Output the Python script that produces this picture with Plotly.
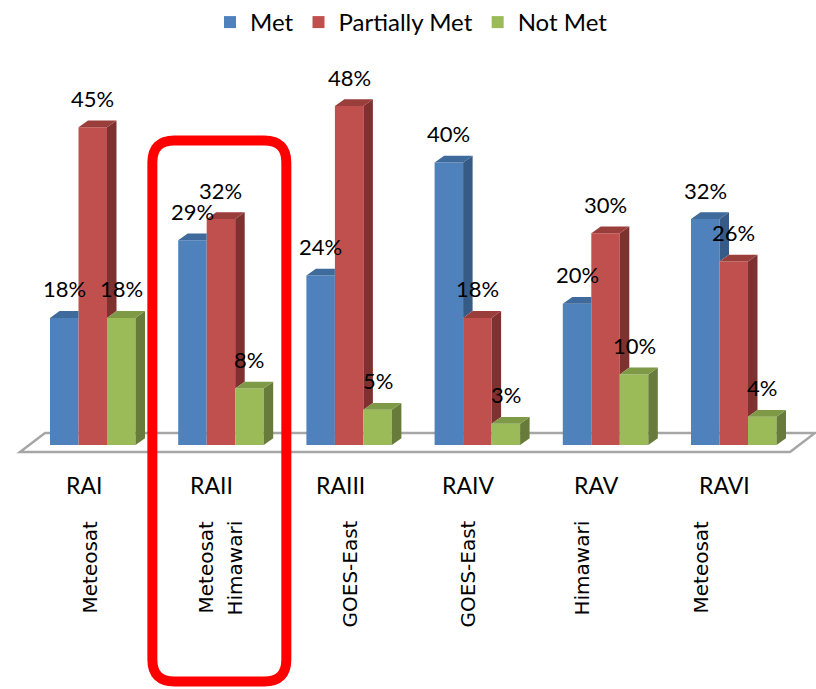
import plotly.graph_objects as go

# ---- data -------------------------------------------------------------
regions = ["RAI", "RAII", "RAIII", "RAIV", "RAV", "RAVI"]
satellites = ["Meteosat", "Meteosat\nHimawari", "GOES-East", "GOES-East", "Himawari", "Meteosat"]
series_names = ["Met", "Partially Met", "Not Met"]
met = [18, 29, 24, 40, 20, 32]
partially_met = [45, 32, 48, 18, 30, 26]
not_met = [18, 8, 5, 3, 10, 4]
series_values = [met, partially_met, not_met]
highlight_region = "RAII"

# ---- styling ----------------------------------------------------------
FRONT = ["#4F81BD", "#C0504D", "#9BBB59"]
TOP = ["#3E6A9C", "#9A3E3B", "#7E9A47"]
SIDE = ["#365B87", "#7E3230", "#677C3A"]

W, H = 816, 689
PX_PER_CAT = 128.2      # horizontal pixels per category
CAT0_PX = 92.75         # pixel centre of the first category
PX_PER_PCT = 7.06       # vertical pixels per percentage point
BASE_PX = 445           # pixel row of the 0 % baseline

BAR_W = 28.5 / PX_PER_CAT           # bar width in category units
DX = 9.5 / PX_PER_CAT               # depth offset (x) of the 3-D faces
DY = 6.8 / PX_PER_PCT               # depth offset (y) of the 3-D faces

x_range = [-CAT0_PX / PX_PER_CAT, (W - CAT0_PX) / PX_PER_CAT]
y_range = [-(H - BASE_PX) / PX_PER_PCT, BASE_PX / PX_PER_PCT]


def px_to_x(px):
    return (px - CAT0_PX) / PX_PER_CAT


def px_to_y(py):
    return (BASE_PX - py) / PX_PER_PCT


LABEL_FONT = "Lato"
SAT_FONT = "DejaVu Sans"

fig = go.Figure()

positions = list(range(len(regions)))
offsets = [-1.5 * BAR_W, -0.5 * BAR_W, 0.5 * BAR_W]

# Front faces: real bar traces (these also feed the legend)
for s, (name, vals) in enumerate(zip(series_names, series_values)):
    fig.add_trace(go.Bar(
        x=positions, y=vals, name=name,
        offset=offsets[s], width=BAR_W,
        marker=dict(color=FRONT[s], line=dict(width=0)),
        hovertemplate="%{customdata}<br>" + name + ": %{y}%<extra></extra>",
        customdata=regions,
    ))


def face(xs, ys, color):
    fig.add_trace(go.Scatter(
        x=xs + [xs[0]], y=ys + [ys[0]], mode="lines", fill="toself",
        fillcolor=color, line=dict(width=0, color=color),
        hoverinfo="skip", showlegend=False,
    ))


# Side and top faces, drawn left to right so that nearer faces overlap correctly
for i in positions:
    for s in range(3):
        h = series_values[s][i]
        xl = i + offsets[s]
        xr = xl + BAR_W
        nxt = series_values[s + 1][i] if s < 2 else None
        # side face: only the part not hidden by the neighbouring bar
        if nxt is None:
            face([xr, xr + DX, xr + DX, xr], [0, DY, h + DY, h], SIDE[s])
        elif nxt < h:
            face([xr, xr + DX, xr + DX, xr], [nxt, nxt + DY, h + DY, h], SIDE[s])
        # top face
        if nxt is not None and nxt >= h + DY:
            face([xl, xr, xr, xl + DX], [h, h, h + DY, h + DY], TOP[s])
        else:
            face([xl, xr, xr + DX, xl + DX], [h, h, h + DY, h + DY], TOP[s])

# Value labels above each bar
for s in range(3):
    for i in positions:
        v = series_values[s][i]
        fig.add_annotation(
            x=i + offsets[s] + BAR_W / 2, y=v, text=f"{v}%",
            showarrow=False, yanchor="middle", yshift=29,
            font=dict(family=LABEL_FONT, size=22, color="#000000"),
        )

# Region names
for i, r in enumerate(regions):
    fig.add_annotation(
        x=i - 9 / PX_PER_CAT, y=1 - 485 / H, yref="paper", text=r,
        showarrow=False, xanchor="center", yanchor="middle",
        font=dict(family=LABEL_FONT, size=23, color="#000000"),
    )

# Satellite names, rotated
sat_px = [[89], [205, 234], [349], [467], [581], [700]]
for i, name in enumerate(satellites):
    for line, px in zip(name.split("\n"), sat_px[i]):
        fig.add_annotation(
            x=px_to_x(px), y=1 - 519 / H, yref="paper", text=line,
            textangle=-90, showarrow=False, xanchor="center", yanchor="top",
            font=dict(family=SAT_FONT, size=20, color="#000000"),
        )

# Floor of the 3-D plot
fl = [(20, 452), (790, 452), (815, 433), (45, 433)]
floor_path = "M " + " L ".join(f"{px_to_x(a):.4f},{px_to_y(b):.4f}" for a, b in fl) + " Z"
fig.add_shape(type="path", path=floor_path, xref="x", yref="y",
              fillcolor="white", line=dict(color="#A6A6A6", width=2.5), layer="below")

# Rounded highlight frame around one region
hi = regions.index(highlight_region)
x0, x1 = hi - 0.535, hi + 0.51
y1, y0 = 1 - 140.5 / H, 1 - 681.5 / H
rx, ry = 22 / PX_PER_CAT, 22 / H
frame = (
    f"M {x0 + rx},{y1} L {x1 - rx},{y1} Q {x1},{y1} {x1},{y1 - ry} "
    f"L {x1},{y0 + ry} Q {x1},{y0} {x1 - rx},{y0} "
    f"L {x0 + rx},{y0} Q {x0},{y0} {x0},{y0 + ry} "
    f"L {x0},{y1 - ry} Q {x0},{y1} {x0 + rx},{y1} Z"
)
fig.add_shape(type="path", path=frame, xref="x", yref="paper",
              line=dict(color="#FF0000", width=10), layer="above")

fig.update_layout(
    width=W, height=H,
    margin=dict(l=0, r=0, t=0, b=0),
    paper_bgcolor="white", plot_bgcolor="white",
    barmode="overlay",
    showlegend=True,
    legend=dict(
        orientation="h", x=(230 - 20) / W, xanchor="left",
        y=1, yanchor="top",
        font=dict(family=LABEL_FONT, size=24, color="#000000"),
        bgcolor="rgba(0,0,0,0)",
    ),
    xaxis=dict(range=x_range, visible=False, fixedrange=True),
    yaxis=dict(range=y_range, visible=False, fixedrange=True),
)

fig.write_html("out.html")
